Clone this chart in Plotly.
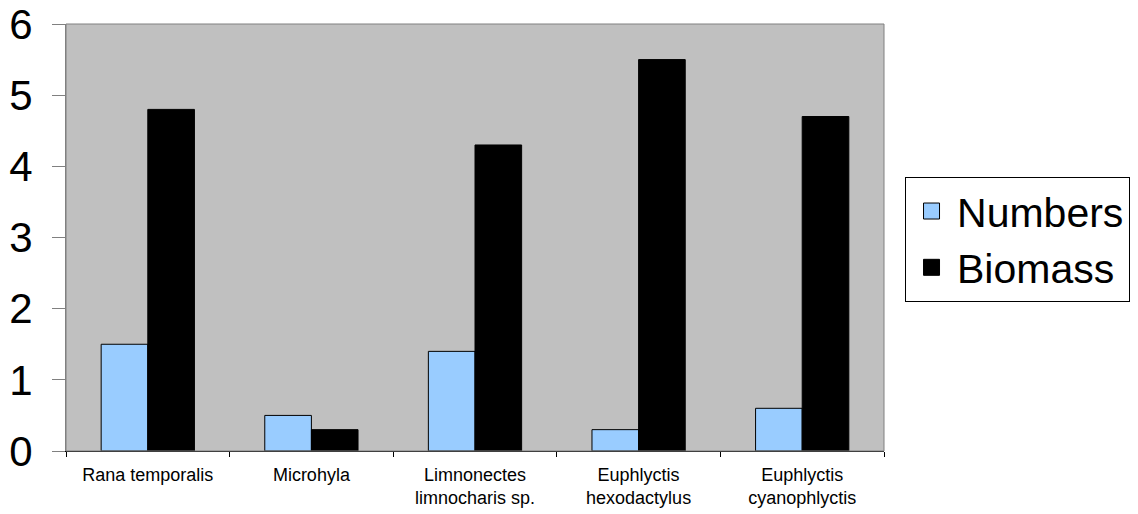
import plotly.graph_objects as go

categories = ["Rana temporalis", "Microhyla", "Limnonectes<br>limnocharis sp.",
              "Euphlyctis<br>hexodactylus", "Euphlyctis<br>cyanophlyctis"]
numbers = [1.5, 0.5, 1.4, 0.3, 0.6]
biomass = [4.8, 0.3, 4.3, 5.5, 4.7]
y_ticks = [0, 1, 2, 3, 4, 5, 6]
series_names = ["Numbers", "Biomass"]
series_colors = ["#99CCFF", "black"]

FONT = "Liberation Sans, Arial, sans-serif"

fig = go.Figure()
for name, vals, col in zip(series_names, [numbers, biomass], series_colors):
    fig.add_trace(go.Bar(x=categories, y=vals, name=name, showlegend=False,
                         marker=dict(color=col, line=dict(color="black", width=1))))
# legend entries with larger square swatches
for name, col in zip(series_names, series_colors):
    fig.add_trace(go.Scatter(x=[None], y=[None], mode="markers", name=name,
                             marker=dict(symbol="square", size=16, color=col,
                                         line=dict(color="black", width=1))))

fig.update_layout(
    width=1138, height=514,
    margin=dict(l=66, r=254, t=24, b=63, autoexpand=False),
    paper_bgcolor="white",
    plot_bgcolor="#C0C0C0",
    barmode="group",
    bargap=0.43,
    bargroupgap=0,
    font=dict(family=FONT, color="black"),
    showlegend=True,
    legend=dict(x=1.0257, y=0.642, xanchor="left", yanchor="top",
                bordercolor="black", borderwidth=1, bgcolor="white",
                font=dict(size=41, family=FONT), tracegroupgap=0,
                itemsizing="trace", itemwidth=41),
    shapes=[dict(type="rect", xref="paper", yref="paper", x0=0, x1=1, y0=0, y1=1,
                 line=dict(color="#808080", width=1), layer="above")],
)
fig.update_xaxes(
    tickson="boundaries", ticks="outside", ticklen=5, tickcolor="black",
    showline=True, linecolor="black", linewidth=1, automargin=False,
    tickfont=dict(size=18, family=FONT), showgrid=False, ticklabelstandoff=7,
)
fig.update_yaxes(
    range=[0, 6], tickvals=y_ticks, ticks="outside", ticklen=13, tickcolor="#808080",
    showline=True, linecolor="#808080", linewidth=1, showgrid=False, zeroline=False,
    automargin=False,
    tickfont=dict(size=42, family=FONT), ticklabelstandoff=11,
)

fig.write_html("out.html", config={"displayModeBar": False},
               post_script="document.body.style.margin='0';")
